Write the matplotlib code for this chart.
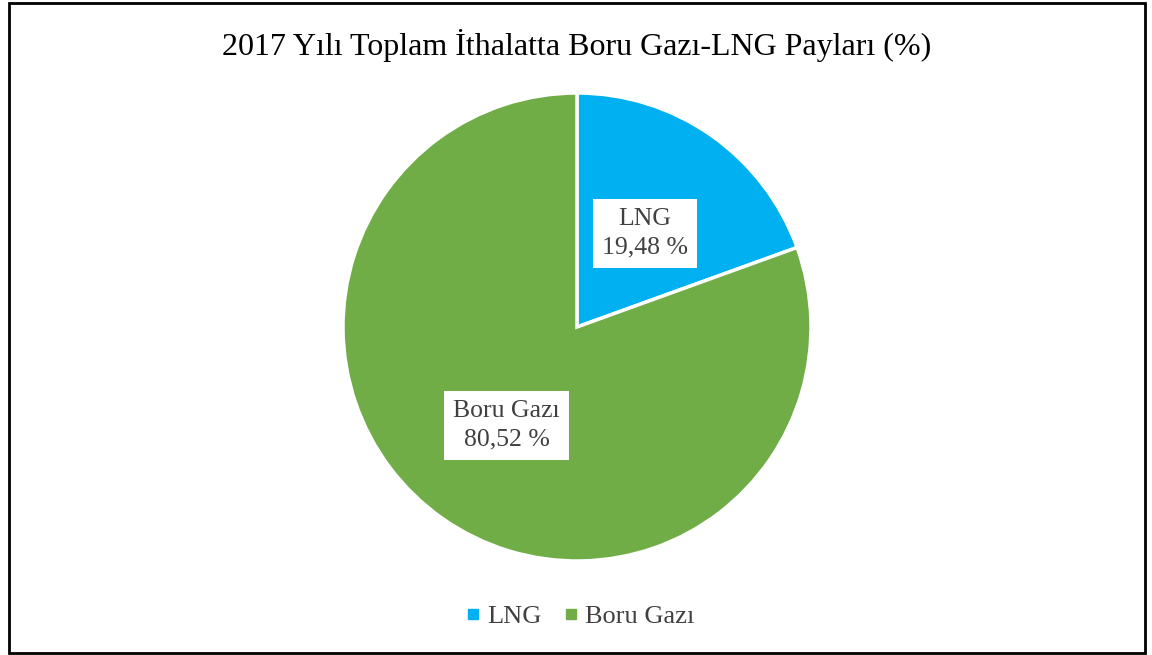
import matplotlib
matplotlib.use("Agg")
import matplotlib.pyplot as plt
from matplotlib.patches import Rectangle
from matplotlib.lines import Line2D

# Veriler: 2017 ithalat payları (%)
categories = ["LNG", "Boru Gazı"]
shares = [19.48, 80.52]
colors = ["#00B0F0", "#70AD47"]
title = "2017 Yılı Toplam İthalatta Boru Gazı-LNG Payları (%)"

plt.rcParams["font.family"] = ["Liberation Serif", "DejaVu Serif"]
TXT = "#404040"

W, H = 1152, 655
fig = plt.figure(figsize=(W / 100, H / 100), dpi=100)

# pasta: merkez (577, 327) px, yarıçap 234 px
cx, cy, r = 577, 327, 234
ax = fig.add_axes([(cx - r) / W, 1 - (cy + r) / H, 2 * r / W, 2 * r / H])
wedges, _ = ax.pie(shares, colors=colors, startangle=90, counterclock=False,
                   wedgeprops=dict(edgecolor="white", linewidth=2.5))
ax.set_xlim(-1, 1)
ax.set_ylim(-1, 1)
ax.set_aspect("equal")

# etiketler (kutulu)
label_pos = [(0.29, 0.40), (-0.30, -0.42)]
for name, val, (x, y) in zip(categories, shares, label_pos):
    txt = f"{name}\n{val:.2f} %".replace(".", ",")
    ax.text(x, y, txt, ha="center", va="center", fontsize=18.5, color=TXT,
            linespacing=1.4,
            bbox=dict(boxstyle="square,pad=0.35", fc="white", ec="none"))

fig.text(cx / W, 1 - 45 / H, title, ha="center", va="center", fontsize=23,
         color="black")

handles = [Line2D([], [], marker="s", linestyle="none", markersize=7,
                  markerfacecolor=c, markeredgecolor=c) for c in colors]
fig.legend(handles, categories, loc="center", bbox_to_anchor=(cx / W, 1 - 616 / H),
           ncol=2, frameon=False, fontsize=19, labelcolor=TXT,
           handletextpad=0.05, columnspacing=0.6, handlelength=1.0)

# çerçeve
fig.add_artist(Rectangle((8.5 / W, 1 - 653 / H), (1145 - 8.5) / W, (652 - 1.5) / H,
                         transform=fig.transFigure, fill=False, ec="black", lw=2))

fig.savefig("out.png", dpi=100)
